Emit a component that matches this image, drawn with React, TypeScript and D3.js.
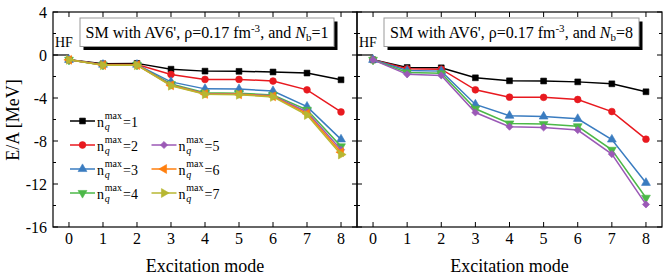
import React from 'react';
import * as d3 from 'd3';

const modes = [0, 1, 2, 3, 4, 5, 6, 7, 8];
const yMajor = [-16, -12, -8, -4, 0, 4];
const yMinor = [-14, -10, -6, -2, 2];
const seriesNames = ['1', '2', '3', '4', '5', '6', '7'];
const colors = ['#000000', '#e8191f', '#3a7cc0', '#4cb848', '#9b59b6', '#ff7f0e', '#b7b732'];

// Nb = 1
const nb1_q1 = [-0.45, -0.82, -0.78, -1.32, -1.5, -1.52, -1.58, -1.68, -2.31];
const nb1_q2 = [-0.45, -0.88, -0.88, -1.81, -2.27, -2.27, -2.42, -3.24, -5.3];
const nb1_q3 = [-0.45, -0.9, -0.9, -2.5, -3.15, -3.17, -3.35, -4.8, -7.85];
const nb1_q4 = [-0.45, -0.92, -0.92, -2.7, -3.5, -3.55, -3.72, -5.1, -8.5];
const nb1_q5 = [-0.45, -0.93, -0.93, -2.78, -3.58, -3.62, -3.8, -5.3, -8.82];
const nb1_q6 = [-0.45, -0.94, -0.94, -2.82, -3.62, -3.66, -3.85, -5.45, -9.04];
const nb1_q7 = [-0.45, -0.95, -0.95, -2.86, -3.66, -3.7, -3.9, -5.58, -9.26];

// Nb = 8
const nb8_q1 = [-0.45, -1.16, -1.19, -2.12, -2.4, -2.42, -2.5, -2.68, -3.42];
const nb8_q2 = [-0.45, -1.28, -1.32, -3.24, -3.92, -3.94, -4.14, -5.26, -7.83];
const nb8_q3 = [-0.45, -1.45, -1.5, -4.6, -5.65, -5.72, -5.94, -7.86, -11.89];
const nb8_q4 = [-0.45, -1.62, -1.7, -5.0, -6.37, -6.42, -6.63, -8.82, -13.28];
const nb8_q5 = [-0.45, -1.8, -1.9, -5.35, -6.67, -6.74, -6.98, -9.22, -13.9];

const FONT = '"Liberation Serif", "Times New Roman", serif';

const TOP = 12;
const BOTTOM = 227;
const yScale = d3.scaleLinear().domain([-16, 4]).range([BOTTOM, TOP]);

function symbolPath(i: number, size: number): { d: string; rot: number } {
  const types = [
    d3.symbolSquare,
    d3.symbolCircle,
    d3.symbolTriangle,
    d3.symbolTriangle,
    d3.symbolSquare,
    d3.symbolTriangle,
    d3.symbolTriangle,
  ];
  const rots = [0, 0, 0, 180, 45, -90, 90];
  const sizes = [34, 36, 34, 34, 26, 34, 34];
  const d = d3.symbol().type(types[i]).size(sizes[i] * size)() as string;
  return { d, rot: rots[i] };
}

function Marker({ i, x, y }: { i: number; x: number; y: number }) {
  const { d, rot } = symbolPath(i, 1);
  return <path d={d} transform={`translate(${x},${y}) rotate(${rot})`} fill={colors[i]} stroke={colors[i]} strokeWidth={0.6} />;
}

function Panel({ x0, x1, data, nb, yLabels }: { x0: number; x1: number; data: number[][]; nb: string; yLabels: boolean }) {
  const x = d3.scaleLinear().domain([-0.47, 8.47]).range([x0, x1]);
  const line = d3
    .line<number>()
    .x((_, k) => x(modes[k]))
    .y((v) => yScale(v));
  const boxL = x(-0.47) + 27;
  const boxR = x(8.47) - 23;
  const cx = (boxL + boxR) / 2;
  return (
    <g>
      {/* frame ticks */}
      {modes.map((m) => (
        <g key={'xt' + m}>
          <line x1={x(m)} x2={x(m)} y1={BOTTOM} y2={BOTTOM - 5} stroke="#000" strokeWidth={1} />
          <line x1={x(m)} x2={x(m)} y1={TOP} y2={TOP + 5} stroke="#000" strokeWidth={1} />
          <text x={x(m)} y={243.5} textAnchor="middle" fontFamily={FONT} fontSize={16}>
            {m}
          </text>
        </g>
      ))}
      {yMajor.map((v) => (
        <g key={'ym' + v}>
          <line x1={x0} x2={x0 + 5} y1={yScale(v)} y2={yScale(v)} stroke="#000" strokeWidth={1} />
          <line x1={x1} x2={x1 - 5} y1={yScale(v)} y2={yScale(v)} stroke="#000" strokeWidth={1} />
          {yLabels && (
            <text x={x0 - 6} y={yScale(v) + 5.5} textAnchor="end" fontFamily={FONT} fontSize={16}>
              {v < 0 ? '-' + Math.abs(v) : String(v)}
            </text>
          )}
        </g>
      ))}
      {yMinor.map((v) => (
        <g key={'yn' + v}>
          <line x1={x0} x2={x0 + 3} y1={yScale(v)} y2={yScale(v)} stroke="#000" strokeWidth={1} />
          <line x1={x1} x2={x1 - 3} y1={yScale(v)} y2={yScale(v)} stroke="#000" strokeWidth={1} />
        </g>
      ))}
      <rect x={x0} y={TOP} width={x1 - x0} height={BOTTOM - TOP} fill="none" stroke="#000" strokeWidth={1.2} />

      {/* HF */}
      <line x1={x0} x2={x(0)} y1={yScale(0)} y2={yScale(0)} stroke="#000" strokeWidth={1.2} />
      <text x={x0 + 2} y={47} fontFamily={FONT} fontSize={14}>
        HF
      </text>

      {/* series */}
      {data.map((s, i) => (
        <g key={'s' + i}>
          <path d={line(s) as string} fill="none" stroke={colors[i]} strokeWidth={1.5} />
          {s.map((v, k) => (
            <Marker key={k} i={i} x={x(modes[k])} y={yScale(v)} />
          ))}
        </g>
      ))}

      {/* title box */}
      <rect x={boxL + 3.5} y={21.5} width={boxR - boxL} height={28.5} fill="#000" />
      <rect x={boxL} y={18} width={boxR - boxL} height={28.5} fill="#fff" stroke="#999" strokeWidth={1} />
      <text x={cx} y={37.5} textAnchor="middle" fontFamily={FONT} fontSize={16}>
        SM with AV6', ρ=0.17 fm
        <tspan dy={-6} fontSize={11}>-3</tspan>
        <tspan dy={6}>, and </tspan>
        <tspan fontStyle="italic">N</tspan>
        <tspan dy={3} fontSize={11}>b</tspan>
        <tspan dy={-3}>={nb}</tspan>
      </text>

      {/* x title */}
      <text x={x(4)} y={272} textAnchor="middle" fontFamily={FONT} fontSize={18}>
        Excitation mode
      </text>
    </g>
  );
}

function LegendEntry({ i, lx, ly }: { i: number; lx: number; ly: number }) {
  const tx = lx + 27;
  return (
    <g>
      <line x1={lx} x2={lx + 25} y1={ly} y2={ly} stroke={colors[i]} strokeWidth={1.5} />
      <Marker i={i} x={lx + 12.5} y={ly} />
      <text x={tx} y={ly + 5.5} fontFamily={FONT} fontSize={14}>
        n
      </text>
      <text x={tx + 7.7} y={ly - 2.5} fontFamily={FONT} fontSize={10}>
        max
      </text>
      <text x={tx + 7.7} y={ly + 8.5} fontFamily={FONT} fontSize={10} fontStyle="italic">
        q
      </text>
      <text x={tx + 26} y={ly + 5.5} fontFamily={FONT} fontSize={14}>
        ={seriesNames[i]}
      </text>
    </g>
  );
}

export default function App() {
  const left = [nb1_q1, nb1_q2, nb1_q3, nb1_q4, nb1_q5, nb1_q6, nb1_q7];
  const right = [nb8_q1, nb8_q2, nb8_q3, nb8_q4, nb8_q5];
  const legendPos = [
    [70, 121],
    [70, 145],
    [70, 169],
    [70, 193],
    [151.5, 145],
    [151.5, 169],
    [151.5, 193],
  ];
  return (
    <svg width={664} height={279} style={{ position: 'absolute', left: 0, top: 0, background: '#fff' }}>
      <rect x={0} y={0} width={664} height={279} fill="#fff" />
      <Panel x0={53} x1={357} data={left} nb="1" yLabels={true} />
      <Panel x0={357} x1={662} data={right} nb="8" yLabels={false} />
      <g>
        {legendPos.map((p, i) => (
          <LegendEntry key={i} i={i} lx={p[0]} ly={p[1]} />
        ))}
      </g>
      <text
        transform={`translate(19,${120}) rotate(-90)`}
        textAnchor="middle"
        fontFamily={FONT}
        fontSize={18}
      >
        E/A [MeV]
      </text>
    </svg>
  );
}
